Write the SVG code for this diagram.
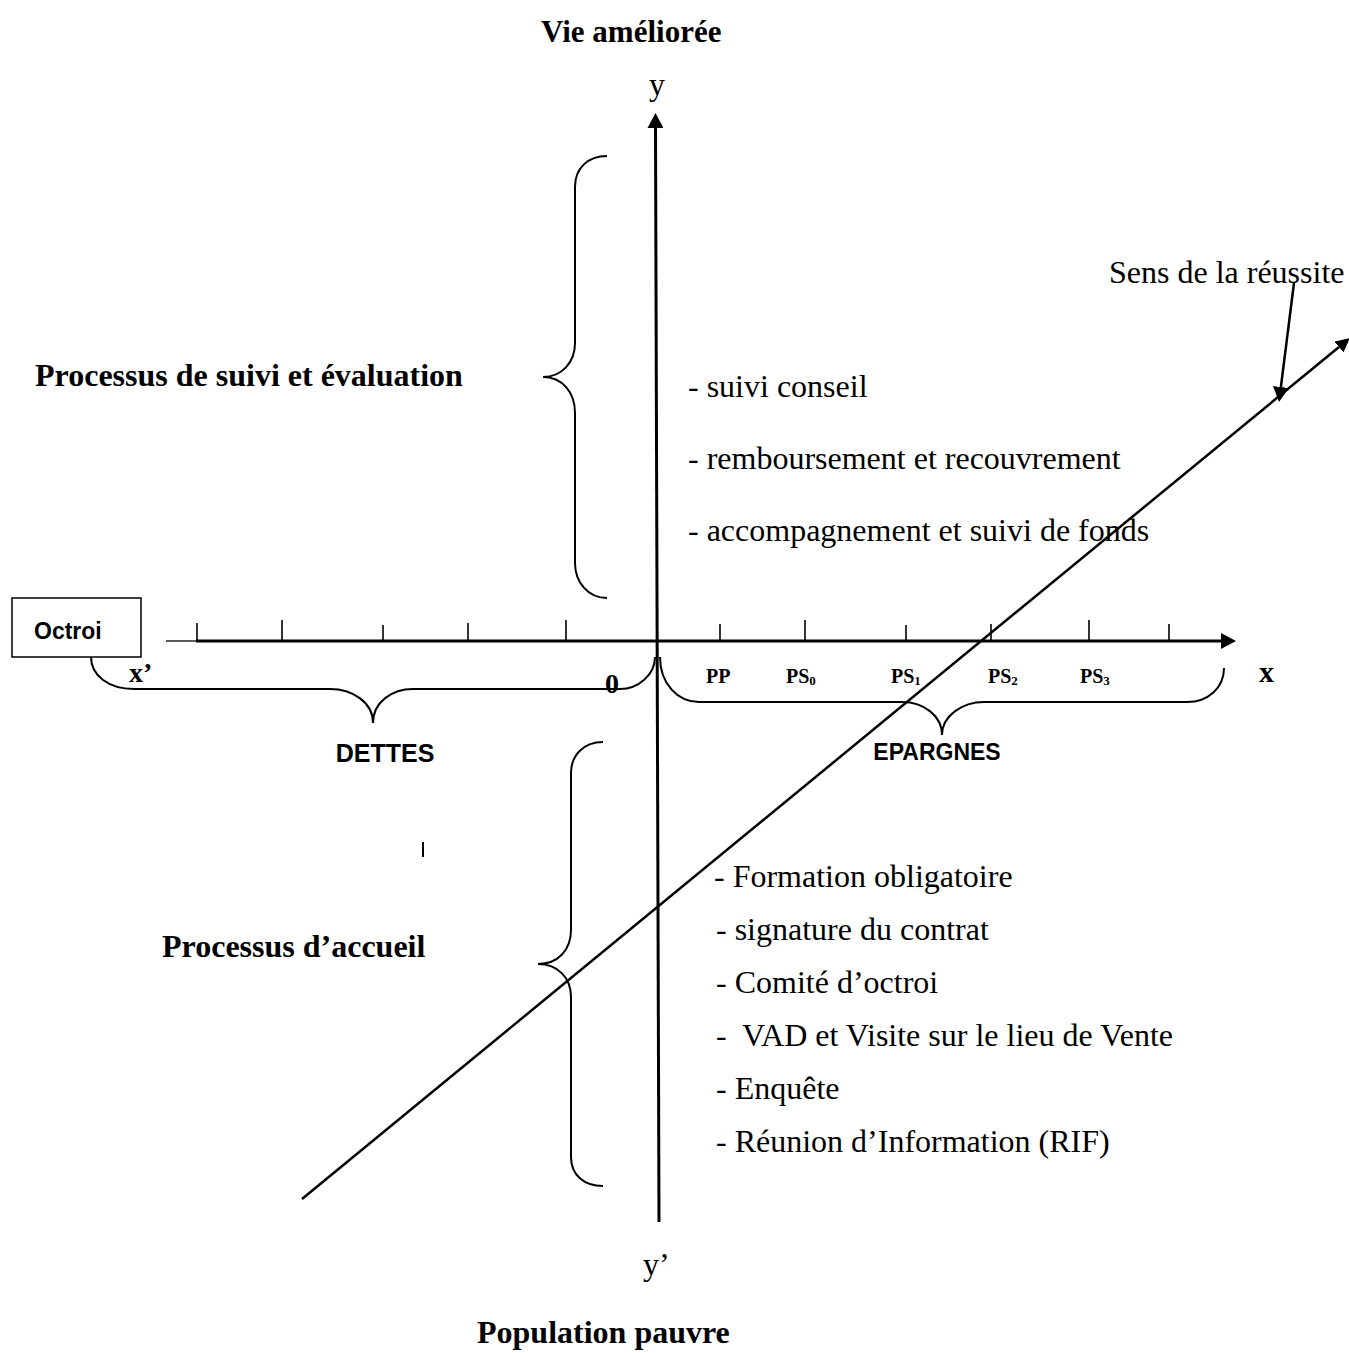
<svg xmlns="http://www.w3.org/2000/svg" width="1349" height="1353" viewBox="0 0 1349 1353">
<style>
.t{font-family:"Liberation Serif","Times New Roman",serif;font-size:32px;fill:#000}
.b{font-weight:bold}
.s{font-family:"Liberation Sans",Arial,sans-serif;font-weight:bold;font-size:24px;fill:#000}
.lab{font-family:"Liberation Serif","Times New Roman",serif;font-weight:bold;font-size:20px;fill:#000}
.sub{font-size:13px}
.ax{stroke:#000;stroke-width:3;fill:none}
.br{stroke:#000;stroke-width:2;fill:none}
.tk{stroke:#000;stroke-width:1.6}
</style>
<defs>
<marker id="ah" markerUnits="userSpaceOnUse" markerWidth="16" markerHeight="16" refX="0" refY="8" orient="auto">
<path d="M0,0 L15,8 L0,16 z" fill="#000"/>
</marker>
<marker id="ahs" markerUnits="userSpaceOnUse" markerWidth="14" markerHeight="14" refX="0" refY="7" orient="auto">
<path d="M0,0 L14,7 L0,14 z" fill="#000"/>
</marker>
</defs>
<rect width="1349" height="1353" fill="#fff"/>

<g id="connectors">
<line id="axis-y" class="ax" x1="659" y1="1222" x2="655.5" y2="128" marker-end="url(#ah)"/>
<line id="axis-x-thin" x1="166" y1="641" x2="197" y2="641" stroke="#000" stroke-width="1.3"/>
<line id="axis-x" class="ax" x1="196" y1="641" x2="1221" y2="641" marker-end="url(#ah)"/>
<line id="diagonal" stroke="#000" stroke-width="2.5" x1="302" y1="1199" x2="1339" y2="347" marker-end="url(#ahs)"/>
<line id="pointer" stroke="#000" stroke-width="2.5" x1="1294" y1="283" x2="1280.9" y2="387" marker-end="url(#ah)"/>
<g id="ticks" class="tk">
<line x1="197" y1="623" x2="197" y2="641"/>
<line x1="282" y1="620" x2="282" y2="641"/>
<line x1="383" y1="625" x2="383" y2="641"/>
<line x1="468" y1="623" x2="468" y2="641"/>
<line x1="566" y1="620" x2="566" y2="641"/>
<line x1="720" y1="624" x2="720" y2="641"/>
<line x1="805" y1="620" x2="805" y2="641"/>
<line x1="906" y1="625" x2="906" y2="641"/>
<line x1="991" y1="624" x2="991" y2="641"/>
<line x1="1089" y1="620" x2="1089" y2="641"/>
<line x1="1169" y1="624" x2="1169" y2="641"/>
</g>
<line id="mark" x1="423" y1="842" x2="423" y2="857" stroke="#000" stroke-width="2"/>
</g>

<g id="title-top"><text class="t b" x="541" y="42" style="font-size:31px">Vie améliorée</text></g>
<g id="label-y"><text class="t" x="649" y="95">y</text></g>
<g id="label-sens"><text class="t" x="1109" y="283">Sens de la réussite</text></g>

<g id="brace-suivi">
<path class="br" d="M607,156 C588,156 575,168 575,187 L575,343 C575,362 562,377 543,377 C562,377 575,392 575,413 L575,563 C575,582 588,598 607,598"/>
<text class="t b" x="35" y="386">Processus de suivi et évaluation</text>
</g>

<g id="list-suivi">
<text class="t" x="688" y="397">- suivi conseil</text>
<text class="t" x="688" y="469">- remboursement et recouvrement</text>
<text class="t" x="688" y="541">- accompagnement et suivi de fonds</text>
</g>

<g id="octroi">
<rect x="12" y="598" width="129" height="59" fill="#fff" stroke="#000" stroke-width="1.5"/>
<text class="s" x="34" y="639" style="font-size:23px">Octroi</text>
</g>

<g id="brace-dettes">
<path class="br" d="M91,657 C91,675 108,689 134,689 L330,689 C352,689 373,702 373,723 C373,702 392,689 413,689 L620,689 C638,689 655,675 655,657"/>
<text class="s" x="385" y="762" text-anchor="middle" style="font-size:25px">DETTES</text>
</g>
<g id="label-xp"><text class="t b" x="129" y="682" style="font-size:28px">x’</text></g>
<g id="label-0"><text class="t b" x="605" y="693" style="font-size:28px">0</text></g>
<g id="label-x"><text class="t b" x="1259" y="682" style="font-size:30px">x</text></g>

<g id="brace-epargnes">
<path class="br" d="M660,657 C660,684 678,702 699,702 L902,702 C924,702 942,716 942,735 C942,716 962,702 984,702 L1187,702 C1208,702 1224,688 1224,668"/>
<text class="s" x="937" y="760" text-anchor="middle" style="font-size:23px">EPARGNES</text>
</g>

<g id="x-labels">
<text class="lab" x="706" y="683">PP</text>
<text class="lab" x="786" y="683">PS<tspan class="sub" dy="2">0</tspan></text>
<text class="lab" x="891" y="683">PS<tspan class="sub" dy="2">1</tspan></text>
<text class="lab" x="988" y="683">PS<tspan class="sub" dy="2">2</tspan></text>
<text class="lab" x="1080" y="683">PS<tspan class="sub" dy="2">3</tspan></text>
</g>

<g id="brace-accueil">
<path class="br" d="M603,742 C584,742 571,755 571,773 L571,930 C571,950 558,964 538,964 C558,964 571,978 571,997 L571,1157 C571,1175 584,1186 603,1186"/>
<text class="t b" x="162" y="957">Processus d’accueil</text>
</g>

<g id="list-accueil">
<text class="t" x="714" y="887">- Formation obligatoire</text>
<text class="t" x="716" y="940">- signature du contrat</text>
<text class="t" x="716" y="993">- Comité d’octroi</text>
<text class="t" x="716" y="1046" xml:space="preserve">-  VAD et Visite sur le lieu de Vente</text>
<text class="t" x="716" y="1099">- Enquête</text>
<text class="t" x="716" y="1152">- Réunion d’Information (RIF)</text>
</g>

<g id="label-yp"><text class="t" x="643" y="1275">y’</text></g>
<g id="title-bottom"><text class="t b" x="477" y="1343">Population pauvre</text></g>
</svg>
